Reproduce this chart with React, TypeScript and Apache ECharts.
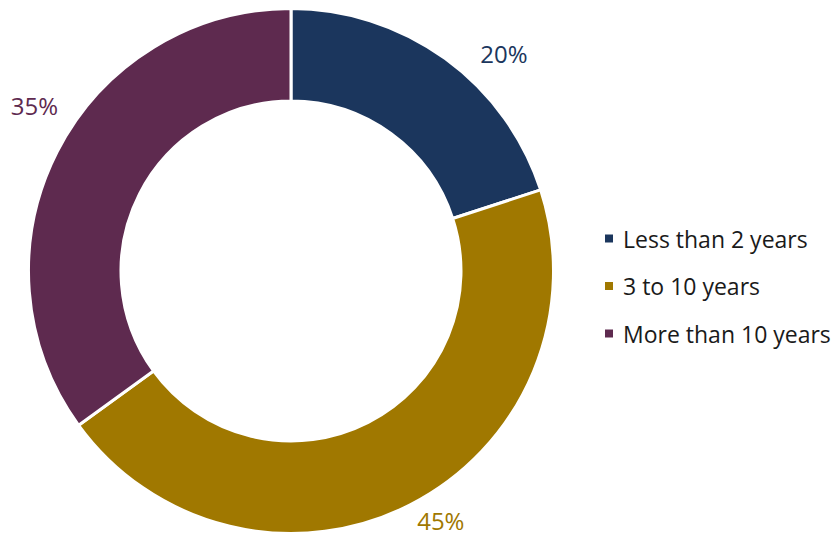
import React, { useEffect, useRef } from "react";
import * as echarts from "echarts";

const categories = ["Less than 2 years", "3 to 10 years", "More than 10 years"];
const values = [20, 45, 35];
const colors = ["#1B365D", "#A07800", "#5E2A4F"];
const labelOffsets = [
  [30, -5],
  [2, 16],
  [6, -46],
];

export default function App() {
  const ref = useRef<HTMLDivElement>(null);
  useEffect(() => {
    document.body.style.margin = "0";
    const chart = echarts.init(ref.current!, null, { renderer: "svg" });
    chart.setOption({
      animation: false,
      color: colors,
      legend: {
        orient: "vertical",
        left: 603,
        top: 225.5,
        padding: 0,
        icon: "rect",
        itemWidth: 10,
        itemHeight: 10,
        itemGap: 21.5,
        data: categories,
        textStyle: {
          fontFamily: "Open Sans",
          fontSize: 23,
          color: "#1a1a1a",
          lineHeight: 26,
          padding: [0, 0, 0, 4],
        },
      },
      series: [
        {
          type: "pie",
          center: [291, 271],
          radius: [170, 262.5],
          startAngle: 90,
          clockwise: true,
          avoidLabelOverlap: false,
          itemStyle: { borderColor: "#ffffff", borderWidth: 3 },
          label: {
            show: true,
            position: "outside",
            formatter: "{d}%",
            fontFamily: "Open Sans",
            fontSize: 24,
            lineHeight: 22,
            color: "inherit",
            distanceToLabelLine: 5,
          },
          labelLine: { show: false, length: 0, length2: 0 },
          labelLayout: (p: any) => ({
            dx: labelOffsets[p.dataIndex][0],
            dy: labelOffsets[p.dataIndex][1],
          }),
          emphasis: { disabled: true },
          data: categories.map((name, i) => ({
            name,
            value: values[i],
            label: { color: colors[i] },
          })),
        },
      ],
    });
    return () => chart.dispose();
  }, []);
  return <div ref={ref} style={{ width: 840, height: 536 }} />;
}
